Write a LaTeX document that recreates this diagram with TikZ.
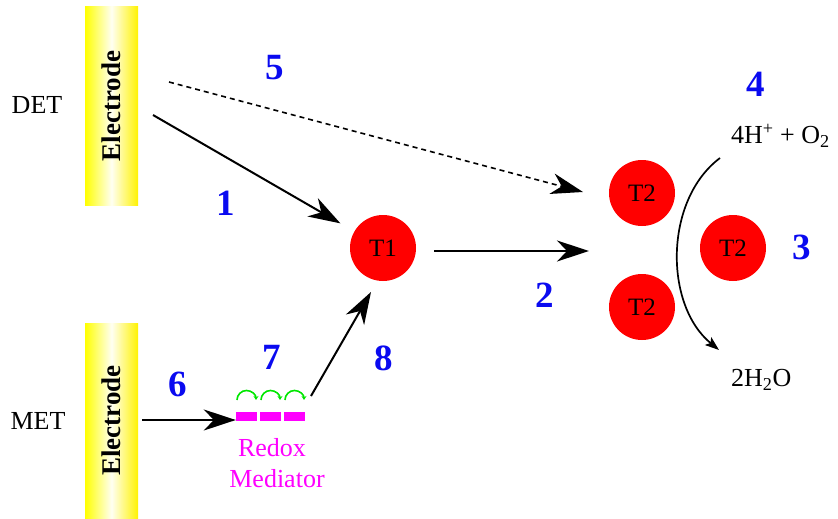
\documentclass[tikz,border=0pt]{standalone}
\usepackage{fontspec}
\setmainfont{Liberation Serif}
\newfontfamily\tms{Liberation Serif}
\usetikzlibrary{arrows.meta,shadings}
\definecolor{numblue}{RGB}{10,10,240}
\definecolor{medmag}{RGB}{255,0,255}
\definecolor{arcgreen}{RGB}{0,230,0}
\begin{document}
\begin{tikzpicture}[x=1pt,y=-1pt,
  lbl/.style={font=\tms\fontsize{26}{30}\selectfont, inner sep=0pt},
  num/.style={font=\tms\fontsize{37}{40}\selectfont\bfseries, text=numblue, inner sep=0pt},
  site/.style={circle, fill=red, minimum size=66pt, inner sep=0pt, font=\tms\fontsize{25}{28}\selectfont},
  elec/.style={draw=none, shading=axis, left color=yellow, right color=yellow!90!orange, middle color=yellow!5, minimum width=53pt, inner sep=0pt},
  electxt/.style={rotate=90, font=\tms\fontsize{27}{30}\selectfont\bfseries, inner sep=0pt},
  bigarrow/.style={line width=2pt, -{Stealth[length=32pt,width=21pt,inset=10pt]}},
  medbar/.style={fill=medmag, draw=none, minimum width=21pt, minimum height=9pt, inner sep=0pt},
  medtxt/.style={text=medmag, font=\tms\fontsize{26}{30}\selectfont, inner sep=0pt, align=center},
  arcstyle/.style={draw=arcgreen, line width=1.6pt, -{Stealth[length=4pt,width=5pt]}}
]
\useasboundingbox (0,0) rectangle (838,519);

% electrodes
\node[elec, minimum height=198pt] (e1) at (111.5,106) {};
\node[electxt] at (e1) {Electrode};
\node[elec, minimum height=195pt] (e2) at (111.5,420.5) {};
\node[electxt] at (e2) {Electrode};

\node[lbl] (det) at (37,105) {DET};
\node[lbl] (met) at (38,421) {MET};

% copper sites
\node[site] (T1) at (383,248) {T1};
\node[site] (T2a) at (642,193) {T2};
\node[site] (T2b) at (733,248) {T2};
\node[site] (T2c) at (642,307) {T2};

% mediator
\node[minimum width=68pt, minimum height=9pt, inner sep=0pt] (med) at (270,416) {};
\node[medbar] (m1) at (246.5,416) {};
\node[medbar] (m2) at (270.5,416) {};
\node[medbar] (m3) at (294.5,416) {};
\foreach \xx in {237,261,285}{
  \draw[arcstyle] (\xx,400) arc[start angle=180, end angle=0, radius=9.5pt];
}
\node[medtxt] (redox) at (272,448) {Redox};
\node[medtxt] (mediator) at (277,479) {Mediator};

% connector coordinates
\coordinate (a1s) at (153,115);
\coordinate (a5s) at (169,82);
\coordinate (a5e) at (583,192);
\coordinate (a2e) at (589,251);
\coordinate (a6s) at (142,420);
\coordinate (a8s) at (311,396);
\coordinate (a8e) at (371,292);
\coordinate (c4) at (720,158);
\coordinate (c5) at (719,350);

% arrows
\draw[bigarrow, shorten >=16pt] (a1s) -- (T1);
\draw[line width=1.6pt, dash pattern=on 5pt off 4pt, -{Stealth[length=32pt,width=21pt,inset=10pt]}] (a5s) -- (a5e);
\draw[bigarrow, shorten <=18pt] (T1.east |- a2e) -- (a2e);
\draw[bigarrow] (a6s) -- (med.west |- a6s);
\draw[bigarrow] (a8s) -- (a8e);
\draw[line width=1.7pt, -{Stealth[length=14pt,width=10pt,inset=3pt]}] (c4) .. controls (664,200) and (664,305) .. (c5);

% reaction texts
\node[lbl, anchor=west] (o2) at (731,136) {4H\textsuperscript{+} + O\textsubscript{2}};
\node[lbl, anchor=west] (h2o) at (731,380) {2H\textsubscript{2}O};

% numbers
\node[num] (n1) at (226,203) {1};
\node[num] (n2) at (545,295) {2};
\node[num] (n3) at (802,247) {3};
\node[num] (n4) at (756,84) {4};
\node[num] (n5) at (275,68) {5};
\node[num] (n6) at (178,384) {6};
\node[num] (n7) at (272,357) {7};
\node[num] (n8) at (384,358) {8};
\end{tikzpicture}
\end{document}
